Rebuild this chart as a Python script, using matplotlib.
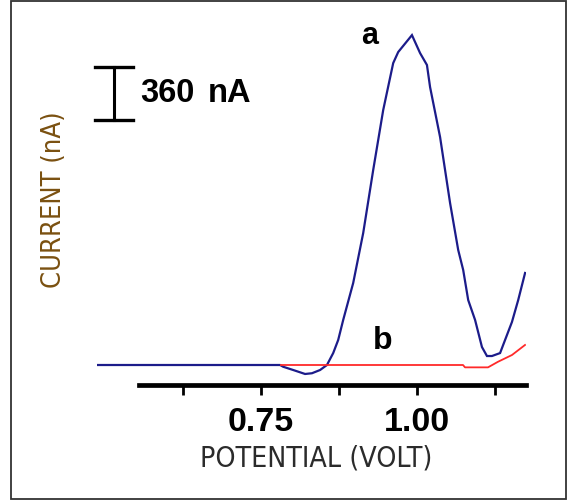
import matplotlib
matplotlib.use("Agg")
import matplotlib.pyplot as plt
from matplotlib import font_manager
from matplotlib.patches import Rectangle

# ---------------- data ----------------
# curve a (blue): potential (V) vs current (nA, baseline = 0)
a_potential = [0.488, 0.781, 0.786, 0.802, 0.821, 0.832, 0.845, 0.856, 0.866,
               0.874, 0.882, 0.898, 0.914, 0.930, 0.946, 0.962, 0.970, 0.992,
               1.005, 1.016, 1.021, 1.037, 1.053, 1.066, 1.074, 1.082, 1.093,
               1.104, 1.112, 1.120, 1.133, 1.141, 1.152, 1.162, 1.173]
a_current = [0, 0, -12, -34, -61, -56, -34, 0, 81,
             170, 306, 557, 896, 1324, 1731, 2050, 2125, 2240,
             2118, 2037, 1887, 1548, 1100, 781, 645, 441, 306,
             122, 61, 61, 81, 170, 292, 441, 625]
# curve b (red)
b_potential = [0.7825, 1.0737, 1.0769, 1.1137, 1.1297, 1.1521, 1.1729]
b_current = [0, 0, -16, -16, 22, 68, 136]

tick_values = [0.625, 0.75, 0.875, 1.00, 1.125]
tick_labels = ["", "0.75", "", "1.00", ""]
scale_bar_nA = 360

# ---------------- fonts ----------------
condensed = [f for f in font_manager.fontManager.ttflist
             if f.name == "DejaVu Sans" and str(f.stretch) in ("condensed", "semi-condensed", "600")]
if condensed:
    label_font = dict(fontfamily="DejaVu Sans", fontstretch="condensed")
else:
    label_font = dict(fontfamily="Liberation Sans")
bold_font = "Liberation Sans"

W, H = 568, 503
fig = plt.figure(figsize=(W / 100, H / 100), dpi=100)
fig.patch.set_facecolor("white")

# frame around the figure
fig.patches.append(Rectangle((10.5 / W, 4 / H), (566 - 10.5) / W, (502 - 4) / H,
                             transform=fig.transFigure, fill=False,
                             edgecolor="#333333", linewidth=1.3))

ax = fig.add_axes([97 / W, (H - 385) / H, (526 - 97) / W, (385 - 20) / H])
ax.set_xlim(0.48808, 1.17448)
ax.set_ylim(-135.8, 2342.6)
ax.set_facecolor("none")

ax.plot(a_potential, a_current, color="#1c1c8a", linewidth=1.6, solid_joinstyle="miter")
ax.plot(b_potential, b_current, color="#ff2a2a", linewidth=1.3)

for s in ("left", "right", "top"):
    ax.spines[s].set_visible(False)
ax.spines["bottom"].set_bounds(0.5553, 1.1745)
ax.spines["bottom"].set_linewidth(3.4)
ax.spines["bottom"].set_color("black")
ax.set_yticks([])
ax.set_xticks(tick_values)
ax.set_xticklabels(tick_labels, fontfamily=bold_font, fontweight="bold", fontsize=24.5)
ax.tick_params(axis="x", direction="out", length=7, width=2, pad=9, color="black")


def px_to_v(px):
    return 0.75 + (px - 260.7) / 625


def py_to_na(py):
    return (365 - py) * 6.79


# axis labels (text, sized to the reference width)
xl = fig.text(316 / W, 1 - 459 / H, "POTENTIAL (VOLT)", ha="center", va="center",
              fontsize=20, color="#2b2b2b", **label_font)
yl = fig.text(54 / W, 1 - 200 / H, "CURRENT (nA)", rotation=90, ha="center", va="center",
              fontsize=20, color="#7a5010", **label_font)
fig.canvas.draw()
r = fig.canvas.get_renderer()
w = xl.get_window_extent(r).width
xl.set_fontsize(20 * 232 / w)
h = yl.get_window_extent(r).height
yl.set_fontsize(20 * 176 / h)

# scale bar
bx = px_to_v(114.3)
cap_l, cap_r = px_to_v(95), px_to_v(133.3)
y_top = py_to_na(66.7)
y_bot = y_top - scale_bar_nA
ax.plot([bx, bx], [y_bot, y_top], color="black", linewidth=2.2, clip_on=False)
ax.plot([cap_l, cap_r], [y_top, y_top], color="black", linewidth=2.4, clip_on=False)
ax.plot([cap_l, cap_r], [y_bot, y_bot], color="black", linewidth=2.4, clip_on=False)
ax.text(px_to_v(140), py_to_na(93.5), f"{scale_bar_nA}",
        ha="left", va="center", fontfamily=bold_font, fontweight="bold",
        fontsize=23.5, color="black")
ax.text(px_to_v(208), py_to_na(93.5), "nA",
        ha="left", va="center", fontfamily=bold_font, fontweight="bold",
        fontsize=23.5, color="black")

# curve labels
ax.text(px_to_v(370), py_to_na(36), "a", ha="center", va="center",
        fontfamily=bold_font, fontweight="bold", fontsize=22, color="black", clip_on=False)
ax.text(px_to_v(383), py_to_na(341), "b", ha="center", va="center",
        fontfamily=bold_font, fontweight="bold", fontsize=23, color="black", clip_on=False)

fig.savefig("out.png", dpi=100, facecolor="white")
